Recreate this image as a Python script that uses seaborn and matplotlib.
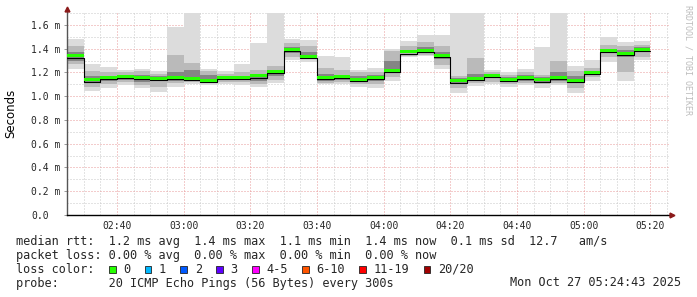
import matplotlib
matplotlib.use("Agg")
import matplotlib.pyplot as plt
import seaborn as sns
import numpy as np
import pandas as pd
from matplotlib.patches import Rectangle

# ---------------- data ----------------
first_bar = "02:25"          # start time of first 5-minute bar
step_min = 5
tick_labels = ["02:40", "03:00", "03:20", "03:40", "04:00", "04:20", "04:40", "05:00", "05:20"]
y_tick_labels = ["0.0", "0.2 m", "0.4 m", "0.6 m", "0.8 m", "1.0 m", "1.2 m", "1.4 m", "1.6 m"]
y_tick_values = [0.0, 0.2, 0.4, 0.6, 0.8, 1.0, 1.2, 1.4, 1.6]

# smoke bands (ms): max, upper-mid, upper-inner, median, lower-inner, lower-mid, min
rtt_max = [1.478, 1.274, 1.249, 1.220, 1.226, 1.212, 1.583, 1.750, 1.232, 1.215, 1.274, 1.444, 1.750, 1.481,
           1.470, 1.342, 1.331, 1.223, 1.237, 1.400, 1.464, 1.512, 1.512, 1.750, 1.750, 1.220, 1.200, 1.229,
           1.413, 1.750, 1.257, 1.308, 1.498, 1.456, 1.464]
rtt_mhi = [1.42, 1.21, 1.20, 1.20, 1.21, 1.19, 1.35, 1.28, 1.21, 1.19, 1.20, 1.22, 1.25, 1.45, 1.42, 1.237,
           1.22, 1.20, 1.20, 1.38, 1.42, 1.46, 1.42, 1.167, 1.32, 1.20, 1.18, 1.20, 1.18, 1.294, 1.21, 1.24,
           1.43, 1.42, 1.43]
rtt_ihi = [1.37, 1.17, 1.17, 1.18, 1.18, 1.17, 1.20, 1.22, 1.18, 1.17, 1.17, 1.19, 1.22, 1.41, 1.37, 1.19,
           1.18, 1.17, 1.18, 1.30, 1.39, 1.41, 1.37, 1.15, 1.19, 1.19, 1.16, 1.18, 1.16, 1.20, 1.17, 1.21,
           1.40, 1.39, 1.41]
rtt_med = [1.339, 1.138, 1.158, 1.169, 1.158, 1.152, 1.158, 1.147, 1.135, 1.158, 1.158, 1.172, 1.209, 1.396,
           1.337, 1.160, 1.167, 1.141, 1.160, 1.220, 1.373, 1.385, 1.345, 1.130, 1.150, 1.175, 1.144, 1.160,
           1.138, 1.160, 1.135, 1.200, 1.385, 1.360, 1.393]
rtt_ilo = [1.30, 1.11, 1.13, 1.14, 1.12, 1.13, 1.13, 1.13, 1.12, 1.14, 1.14, 1.13, 1.17, 1.36, 1.32, 1.13,
           1.14, 1.12, 1.13, 1.20, 1.36, 1.37, 1.31, 1.10, 1.13, 1.15, 1.12, 1.13, 1.12, 1.13, 1.11, 1.18,
           1.36, 1.33, 1.37]
rtt_mlo = [1.27, 1.08, 1.10, 1.12, 1.09, 1.08, 1.11, 1.12, 1.11, 1.12, 1.12, 1.10, 1.14, 1.33, 1.31, 1.11,
           1.12, 1.10, 1.10, 1.16, 1.34, 1.35, 1.26, 1.07, 1.11, 1.12, 1.10, 1.11, 1.10, 1.11, 1.07, 1.16,
           1.33, 1.20, 1.33]
rtt_min = [1.232, 1.045, 1.067, 1.096, 1.067, 1.033, 1.080, 1.104, 1.090, 1.100, 1.096, 1.080, 1.110, 1.308,
           1.290, 1.100, 1.100, 1.080, 1.073, 1.124, 1.330, 1.337, 1.229, 1.030, 1.087, 1.100, 1.076, 1.096,
           1.073, 1.096, 1.030, 1.130, 1.288, 1.124, 1.308]

loss_labels = ["0", "1", "2", "3", "4-5", "6-10", "11-19", "20/20"]
loss_colors = ["#26ff00", "#00b8ff", "#0059ff", "#5e00ff", "#ff00ff", "#ff5500", "#ff0000", "#a10000"]

line1 = "median rtt:  1.2 ms avg  1.4 ms max  1.1 ms min  1.4 ms now  0.1 ms sd  12.7   am/s"
line2 = "packet loss: 0.00 % avg  0.00 % max  0.00 % min  0.00 % now"
line4 = "probe:       20 ICMP Echo Pings (56 Bytes) every 300s"
stamp = "Mon Oct 27 05:24:43 2025"

# ---------------- figure ----------------
sns.set_theme(style="white")
plt.rcParams["font.family"] = ["DejaVu Sans Mono", "DejaVu Sans"]

W, H = 697, 297
fig = plt.figure(figsize=(W / 100, H / 100), dpi=100)
fig.patch.set_facecolor("white")
ax = fig.add_axes([67 / W, (H - 215) / H, 602 / W, 202 / H])
ax.set_facecolor("white")

n = len(rtt_med)
h0, m0 = map(int, first_bar.split(":"))
start0 = h0 * 60 + m0
starts = np.arange(n) * step_min          # minutes since first bar
x_max = 602 / 16.667 * step_min
y_max = 1.70

# grid
minor_x = np.arange(0, x_max, 5)
tick_min = [int(t[:2]) * 60 + int(t[3:]) - start0 for t in tick_labels]
for xv in minor_x:
    if xv in tick_min:
        continue
    ax.axvline(xv, color="#c8c8c8", lw=0.72, ls=(0, (1, 2)), zorder=0)
for xv in tick_min:
    ax.axvline(xv, color="#e89a9a", lw=0.72, ls=(0, (1, 2)), zorder=0.5)
for yv in np.arange(0.1, 1.71, 0.2):
    ax.axhline(yv, color="#c8c8c8", lw=0.72, ls=(0, (1, 2)), zorder=0)
for yv in y_tick_values[1:]:
    ax.axhline(yv, color="#e89a9a", lw=0.72, ls=(0, (1, 2)), zorder=0.5)

# smoke
df = pd.DataFrame({"start": starts, "max": rtt_max, "mhi": rtt_mhi, "ihi": rtt_ihi,
                   "med": rtt_med, "ilo": rtt_ilo, "mlo": rtt_mlo, "min": rtt_min})
for lo_c, hi_c, col in [("min", "max", "#dcdcdc"), ("mlo", "mhi", "#bababa"), ("ilo", "ihi", "#858585")]:
    ax.bar(df["start"], df[hi_c] - df[lo_c], bottom=df[lo_c], width=step_min, align="edge",
           color=col, linewidth=0, zorder=2)

# median: black step line + green band
step_df = pd.DataFrame({"t": list(starts) + [n * step_min],
                        "v": [v - 0.015 for v in rtt_med] + [rtt_med[-1] - 0.015]})
sns.lineplot(data=step_df, x="t", y="v", drawstyle="steps-post", color="black", lw=0.8, ax=ax,
             zorder=3)
ax.bar(df["start"], [0.025] * n, bottom=df["med"] - 0.0125, width=step_min, align="edge",
       color=loss_colors[0], linewidth=0, zorder=4)

ax.set_xlim(0, x_max)
ax.set_ylim(0, y_max)
ax.set_xlabel("")
ax.set_ylabel("")

ax.set_xticks(tick_min)
ax.set_xticklabels(tick_labels, fontsize=7, family="DejaVu Sans Mono")
ax.set_yticks(y_tick_values)
ax.set_yticklabels(y_tick_labels, fontsize=7, family="DejaVu Sans Mono")
ax.tick_params(axis="x", length=0, pad=4.5, bottom=False)
ax.tick_params(axis="y", length=2, width=0.7, pad=24, color="#999999", left=True)
for lab in ax.get_yticklabels():
    lab.set_horizontalalignment("left")

for s in ["top", "right"]:
    ax.spines[s].set_visible(False)
ax.spines["left"].set_color("#555555")
ax.spines["left"].set_linewidth(1.0)
ax.spines["bottom"].set_color("black")
ax.spines["bottom"].set_linewidth(1.0)
ax.spines["left"].set_bounds(0, y_max + 0.02)
ax.plot([x_max, x_max + 0.6], [0, 0], color="black", lw=1.0, clip_on=False, zorder=5)

# arrows
ax.plot(0, y_max + 0.035, marker="^", ms=3.5, color="#8b1a1a", clip_on=False, zorder=6)
ax.plot(x_max + 1.0, 0, marker=">", ms=3.5, color="#8b1a1a", clip_on=False, zorder=6)

# y label
fig.text(10.7 / W, 1 - 113 / H, "Seconds", rotation=90, ha="center", va="center",
         fontsize=8.5, family="DejaVu Sans", color="black")

# watermark
fig.text(688 / W, 1 - 60 / H, "RRDTOOL / TOBI OETIKER", rotation=-90, ha="center", va="center",
         fontsize=6, family="DejaVu Sans Mono", color="#bdbdbd")

# legend
cw = 7.15
fs = 8.55
x0 = 16
fig.text(x0 / W, 1 - 241.5 / H, line1, fontsize=fs, ha="left", va="center", family="DejaVu Sans Mono")
fig.text(x0 / W, 1 - 255.5 / H, line2, fontsize=fs, ha="left", va="center", family="DejaVu Sans Mono")
fig.text(x0 / W, 1 - 269.3 / H, "loss color:", fontsize=fs, ha="left", va="center", family="DejaVu Sans Mono")
col = 13
for lab, c in zip(loss_labels, loss_colors):
    xs = x0 + col * cw
    fig.patches.append(Rectangle((xs / W, 1 - 272.8 / H), 6.6 / W, 7 / H, transform=fig.transFigure,
                                 facecolor=c, edgecolor="#222222", lw=0.6))
    fig.text((x0 + (col + 2) * cw) / W, 1 - 269.3 / H, lab, fontsize=fs, ha="left", va="center",
             family="DejaVu Sans Mono")
    col += 2 + len(lab) + 2
fig.text(x0 / W, 1 - 283 / H, line4, fontsize=fs, ha="left", va="center", family="DejaVu Sans Mono")
fig.text(681 / W, 1 - 283 / H, stamp, fontsize=fs, ha="right", va="center", family="DejaVu Sans Mono")

fig.savefig("out.png", dpi=100, facecolor="white")
